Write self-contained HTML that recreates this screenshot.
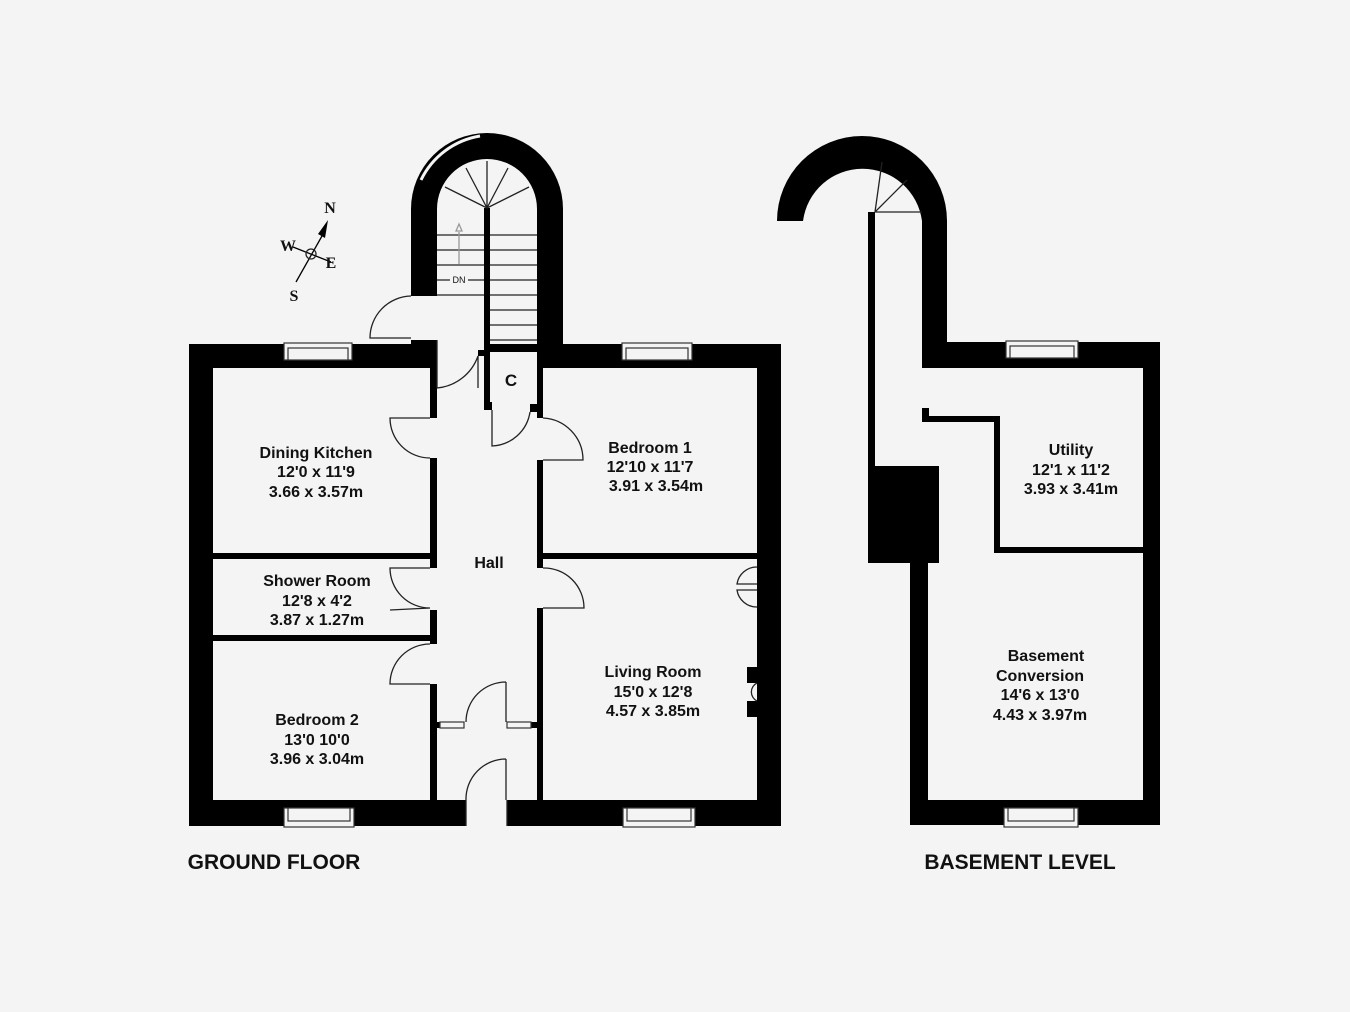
<!DOCTYPE html>
<html><head><meta charset="utf-8"><style>
body{margin:0;background:#f4f4f4}
svg{display:block}
text{font-family:"Liberation Sans",sans-serif;font-weight:bold;fill:#111;text-anchor:middle}
</style></head><body>
<svg width="1350" height="1012" viewBox="0 0 1350 1012" xmlns="http://www.w3.org/2000/svg">
<rect width="1350" height="1012" fill="#f4f4f4"/>
<g fill="#000">
<rect x="189" y="344" width="248" height="24"/>
<rect x="540" y="344" width="241" height="24"/>
<rect x="189" y="344" width="24" height="482"/>
<rect x="757" y="344" width="24" height="482"/>
<rect x="189" y="800" width="277" height="26"/>
<rect x="507" y="800" width="274" height="26"/>
<path d="M411 296 L411 209 A76 76 0 0 1 563 209 L563 350 L537 350 L537 209 A50 50 0 0 0 437 209 L437 296 Z"/>
<rect x="411" y="340" width="26" height="8"/>
<rect x="484" y="208" width="6" height="200"/>
<rect x="478" y="350" width="12" height="6"/>
<rect x="484" y="344" width="56" height="8"/>
<rect x="537" y="344" width="6" height="66"/>
<rect x="484" y="402" width="8" height="8"/>
<rect x="530" y="404" width="13" height="8"/>
<rect x="430" y="360" width="7" height="58"/>
<rect x="430" y="458" width="7" height="110"/>
<rect x="430" y="610" width="7" height="34"/>
<rect x="430" y="684" width="7" height="116"/>
<rect x="537" y="404" width="6" height="14"/>
<rect x="537" y="460" width="6" height="108"/>
<rect x="537" y="608" width="6" height="192"/>
<rect x="213" y="553" width="217" height="6"/>
<rect x="213" y="635" width="217" height="6"/>
<rect x="543" y="553" width="214" height="6"/>
<rect x="437" y="722" width="10" height="6"/>
<rect x="530" y="722" width="7" height="6"/>
<rect x="747" y="667" width="12" height="16"/>
<rect x="747" y="701" width="12" height="16"/>
<path d="M777 221 A85 85 0 0 1 947 221 L947 342 L1160 342 L1160 825 L910 825 L910 563 L928 563 L928 800 L1143 800 L1143 368 L922 368 L922 221 A60 60 0 0 0 803 221 Z"/>
<rect x="868" y="212" width="7" height="351"/>
<rect x="868" y="466" width="71" height="97"/>
<rect x="922" y="408" width="7" height="14"/>
<rect x="922" y="416" width="78" height="6"/>
<rect x="994" y="416" width="6" height="137"/>
<rect x="994" y="547" width="149" height="6"/>
</g>
<g fill="#f4f4f4" stroke="#333" stroke-width="1.2">
<rect x="284" y="343" width="68" height="17"/><rect x="288" y="348" width="60" height="12"/>
<rect x="622" y="343" width="70" height="17"/><rect x="626" y="348" width="62" height="12"/>
<rect x="284" y="808" width="70" height="19"/><rect x="288" y="808" width="62" height="13"/>
<rect x="623" y="808" width="72" height="19"/><rect x="627" y="808" width="64" height="13"/>
<rect x="1006" y="341" width="72" height="17"/><rect x="1010" y="346" width="64" height="12"/>
<rect x="1004" y="808" width="74" height="19"/><rect x="1008" y="808" width="66" height="13"/>
<rect x="440" y="722" width="24" height="6"/><rect x="507" y="722" width="24" height="6"/>
<rect x="466" y="800" width="41" height="26" stroke="none"/>
</g>
<g fill="none" stroke="#222" stroke-width="1.3">
<path d="M437 340 L437 388 M437 388 A48 48 0 0 0 478 356"/>
<line x1="478" y1="356" x2="478" y2="388"/>
<path d="M430 418 L390 418 A40 40 0 0 0 430 458"/>
<path d="M543 460 L583 460 A42 42 0 0 0 543 418"/>
<path d="M492 410 L492 446 A40 40 0 0 0 530 412"/>
<path d="M430 568 L390 568 A40 40 0 0 0 430 608 L390 610"/>
<path d="M543 568 A40 40 0 0 1 584 608 L543 608"/>
<path d="M430 644 A40 40 0 0 0 390 684 L430 684"/>
<path d="M506 682 L506 722 M506 682 A40 40 0 0 0 466 722"/>
<path d="M506 759 L506 800 M506 759 A40 40 0 0 0 466 800 L466 826 M507 800 L507 826"/>
<path d="M411 296 A42 42 0 0 0 370 338 L411 338"/>
<path d="M757 567 A20 20 0 0 0 737 584 L757 584 M757 607 A20 20 0 0 1 737 590 L757 590"/>
<path d="M757 683 A10 10 0 0 0 757 701"/>
<path d="M437 235 L484 235 M490 235 L537 235"/>
<path d="M437 250 L484 250 M437 265 L484 265 M437 280 L484 280 M437 295 L484 295"/>
<path d="M490 250 L537 250 M490 265 L537 265 M490 280 L537 280 M490 295 L537 295 M490 310 L537 310 M490 325 L537 325 M490 340 L537 340"/>
<path d="M487 208 L445 187 M487 208 L466 168 M487 208 L487 161 M487 208 L508 168 M487 208 L529 187"/>
<path d="M421 180 A80 80 0 0 1 480 136" stroke-width="5" stroke="#000"/>
<path d="M421 180 A80 80 0 0 1 480 136" stroke-width="3" stroke="#f4f4f4"/>
<line x1="459" y1="232" x2="459" y2="264" stroke="#999"/>
<path d="M456 231 L459 224 L462 231 Z" stroke="#999"/>
<path d="M875 212 L922 212 M875 212 L882 162 M875 212 L907 180"/>
<path d="M296 282 L322 236" stroke="#000"/>
<path d="M293 247 L331 262" stroke="#000"/>
<circle cx="311" cy="254" r="5"/>
</g>
<path d="M318 234 L328 220 L325 238 Z" fill="#000"/>
<rect x="450" y="274" width="18" height="11" fill="#f4f4f4"/>
<text x="459" y="283" style="font-size:9px;font-weight:normal">DN</text>
<g style="font-size:16px">
<text x="330" y="213" style="font-family:'Liberation Serif',serif">N</text>
<text x="288" y="251" style="font-family:'Liberation Serif',serif">W</text>
<text x="331" y="268" style="font-family:'Liberation Serif',serif">E</text>
<text x="294" y="301" style="font-family:'Liberation Serif',serif">S</text>
</g>
<g style="font-size:16px">
<text x="316" y="458">Dining Kitchen</text><text x="316" y="477">12'0 x 11'9</text><text x="316" y="497">3.66 x 3.57m</text>
<text x="317" y="586">Shower Room</text><text x="317" y="606">12'8 x 4'2</text><text x="317" y="625">3.87 x 1.27m</text>
<text x="317" y="725">Bedroom 2</text><text x="317" y="745">13'0  10'0</text><text x="317" y="764">3.96 x 3.04m</text>
<text x="650" y="453">Bedroom 1</text><text x="650" y="472">12'10 x 11'7</text><text x="656" y="491">3.91 x 3.54m</text>
<text x="489" y="568">Hall</text>
<text x="511" y="386" style="font-size:17px">C</text>
<text x="653" y="677">Living Room</text><text x="653" y="697">15'0 x 12'8</text><text x="653" y="716">4.57 x 3.85m</text>
<text x="1071" y="455">Utility</text><text x="1071" y="475">12'1 x 11'2</text><text x="1071" y="494">3.93 x 3.41m</text>
<text x="1046" y="661">Basement</text><text x="1040" y="681">Conversion</text><text x="1040" y="700">14'6 x 13'0</text><text x="1040" y="720">4.43 x 3.97m</text>
</g>
<g style="font-size:21px">
<text x="274" y="869">GROUND FLOOR</text>
<text x="1020" y="869">BASEMENT LEVEL</text>
</g>
</svg>
</body></html>
